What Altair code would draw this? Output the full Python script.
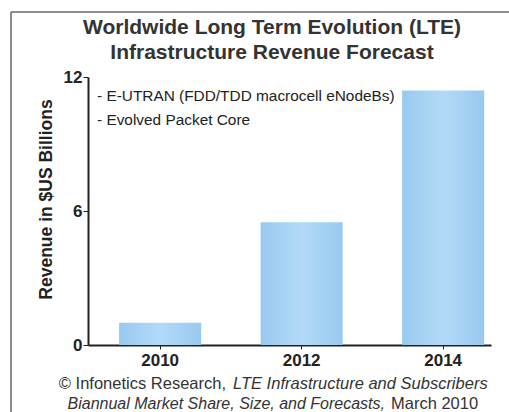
import altair as alt
import pandas as pd

years = ["2010", "2012", "2014"]
revenue = [1.0, 5.5, 11.4]
y_ticks = [0, 6, 12]
notes = ["- E-UTRAN (FDD/TDD macrocell eNodeBs)", "- Evolved Packet Core"]
title_lines = ["Worldwide Long Term Evolution (LTE)", "Infrastructure Revenue Forecast"]

df = pd.DataFrame({"year": years, "revenue": revenue})

FONT = "Liberation Sans"
W, H = 403, 268

bar_fill = alt.Gradient(
    gradient="linear", x1=0, x2=1, y1=0, y2=0,
    stops=[alt.GradientStop(color="#98c9ef", offset=0),
           alt.GradientStop(color="#b2daf7", offset=0.5),
           alt.GradientStop(color="#98c9ef", offset=1)],
)

bars = alt.Chart(df).mark_bar(color=bar_fill).encode(
    x=alt.X("year:N", sort=years,
            scale=alt.Scale(paddingInner=0.42, paddingOuter=0.134, align=0.82),
            axis=alt.Axis(title=None, labelAngle=0, labelFont=FONT, labelFontWeight="bold",
                          labelFontSize=17, labelColor="#222", labelPadding=3,
                          tickSize=4, tickColor="#222", domainColor="#222", domainWidth=2)),
    y=alt.Y("revenue:Q", scale=alt.Scale(domain=[0, 12], nice=False),
            axis=alt.Axis(title="Revenue in $US Billions", values=y_ticks, grid=False,
                          titleFont=FONT, titleFontSize=17.5, titleFontWeight="bold",
                          titleColor="#222", titlePadding=8, titleY=122,
                          labelFont=FONT, labelFontWeight="bold", labelFontSize=17,
                          labelColor="#222", labelPadding=1,
                          tickSize=5, tickColor="#222", domainColor="#222", domainWidth=2)),
)

def txt(s, x, y, align, size=14, italic=False, bold=False, color="#333"):
    return alt.Chart(pd.DataFrame({"t": [s]})).mark_text(
        align=align, baseline="middle", font=FONT, fontSize=size, color=color,
        fontStyle="italic" if italic else "normal",
        fontWeight="bold" if bold else "normal",
    ).encode(x=alt.value(x), y=alt.value(y), text="t:N")

title = (
    txt(title_lines[0], 184, -49, "center", size=21, bold=True)
    + txt(title_lines[1], 184, -24, "center", size=21, bold=True)
)

note_layer = (
    txt(notes[0], 9, 19, "left", size=15.4, color="#222")
    + txt(notes[1], 9, 43, "left", size=15.4, color="#222")
)

footer = (
    txt("© Infonetics Research,", 138, 307, "right", size=16.5)
    + txt("LTE Infrastructure and Subscribers", 145, 307, "left", size=16.5, italic=True)
    + txt("Biannual Market Share, Size, and Forecasts,", 297, 327, "right", size=16, italic=True)
    + txt("March 2010", 303, 327, "left", size=16.5)
)

frame_v = alt.Chart(pd.DataFrame({"a": [0]})).mark_rule(color="#666", strokeWidth=1.5).encode(
    x=alt.value(-77), y=alt.value(-65), y2=alt.value(400))
frame_h = alt.Chart(pd.DataFrame({"a": [0]})).mark_rule(color="#666", strokeWidth=1.5).encode(
    x=alt.value(-77), x2=alt.value(500), y=alt.value(-65))

chart = alt.layer(frame_v, frame_h, bars, title, note_layer, footer).properties(
    width=W, height=H,
    autosize=alt.AutoSizeParams(type="none"),
    padding={"left": 88, "top": 77, "right": 18, "bottom": 67},
    background="white",
).configure_view(stroke=None)

chart.save("out.html", embed_options={"renderer": "svg", "actions": False})
